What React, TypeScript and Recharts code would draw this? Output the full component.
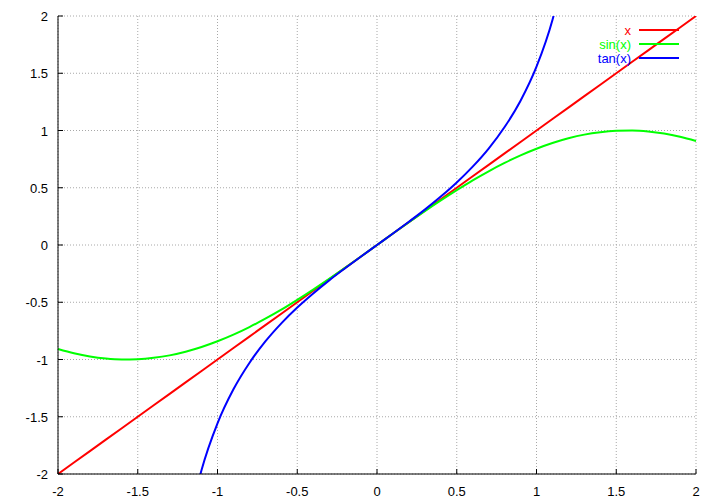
import React from "react";
import {
  CartesianGrid,
  Line,
  LineChart,
  XAxis,
  YAxis,
} from "recharts";

// sample points
const xs = [
  -2.0, -1.9, -1.8, -1.7, -1.6, -1.5, -1.4, -1.3, -1.2, -1.1, -1.0, -0.9, -0.8,
  -0.7, -0.6, -0.5, -0.4, -0.3, -0.2, -0.1, 0, 0.1, 0.2, 0.3, 0.4, 0.5, 0.6,
  0.7, 0.8, 0.9, 1.0, 1.1, 1.2, 1.3, 1.4, 1.5, 1.6, 1.7, 1.8, 1.9, 2.0,
];
const sinVals = [
  -0.909, -0.946, -0.974, -0.992, -1.0, -0.997, -0.985, -0.964, -0.932,
  -0.891, -0.841, -0.783, -0.717, -0.644, -0.565, -0.479, -0.389, -0.296,
  -0.199, -0.1, 0, 0.1, 0.199, 0.296, 0.389, 0.479, 0.565, 0.644, 0.717,
  0.783, 0.841, 0.891, 0.932, 0.964, 0.985, 0.997, 1.0, 0.992, 0.974, 0.946,
  0.909,
];
const tanVals: (number | null)[] = [
  null, null, null, null, null, null, null, null, -2.572, -1.965, -1.557,
  -1.26, -1.03, -0.842, -0.684, -0.546, -0.423, -0.309, -0.203, -0.1, 0, 0.1,
  0.203, 0.309, 0.423, 0.546, 0.684, 0.842, 1.03, 1.26, 1.557, 1.965, 2.572,
  null, null, null, null, null, null, null, null,
];
const xTicks = [-2, -1.5, -1, -0.5, 0, 0.5, 1, 1.5, 2];
const yTicks = [-2, -1.5, -1, -0.5, 0, 0.5, 1, 1.5, 2];

const legendItems = [
  { label: "x", color: "#ff0000" },
  { label: "sin(x)", color: "#00ff00" },
  { label: "tan(x)", color: "#0000ff" },
];

const data = xs.map((x, i) => ({
  x,
  lin: x,
  sin: sinVals[i],
  tan: tanVals[i],
}));

const FONT = "'Liberation Sans', Arial, sans-serif";

function BottomTick(props: any) {
  const { x, y, payload } = props;
  return (
    <g>
      <line x1={x} x2={x} y1={y - 10} y2={y - 15} stroke="#000" />
      <text x={x} y={y + 12} textAnchor="middle" fontSize={13} fontFamily={FONT} fill="#000">
        {payload.value}
      </text>
    </g>
  );
}

function LeftTick(props: any) {
  const { x, y, payload } = props;
  return (
    <g>
      <line x1={x + 10} x2={x + 15} y1={y} y2={y} stroke="#000" />
      <text x={x} y={y + 5} textAnchor="end" fontSize={13} fontFamily={FONT} fill="#000">
        {payload.value}
      </text>
    </g>
  );
}

function LegendBox() {
  return (
    <div
      style={{
        position: "absolute",
        left: 560,
        top: 23,
        width: 130,
        fontFamily: FONT,
        fontSize: 13,
      }}
    >
      {legendItems.map((it) => (
        <div
          key={it.label}
          style={{ display: "flex", alignItems: "center", height: 14 }}
        >
          <span style={{ color: it.color, width: 71, textAlign: "right" }}>
            {it.label}
          </span>
          <span
            style={{
              display: "inline-block",
              marginLeft: 8,
              width: 40,
              height: 2,
              background: it.color,
            }}
          />
        </div>
      ))}
    </div>
  );
}

export default function App() {
  return (
    <div style={{ position: "absolute", left: 0, top: 0, width: 720, height: 504, background: "#fff" }}>
      <LineChart
        width={720}
        height={504}
        data={data}
        margin={{ top: 16, right: 24, left: 0, bottom: 0 }}
      >
        <CartesianGrid
          stroke="#a8a8a8"
          strokeDasharray="1 2"
          horizontalValues={yTicks}
          verticalValues={xTicks}
        />
        <XAxis
          dataKey="x"
          type="number"
          domain={[-2, 2]}
          ticks={xTicks}
          height={30}
          tickLine={false}
          tickSize={0}
          tickMargin={10}
          axisLine={{ stroke: "#000" }}
          tick={<BottomTick />}
          interval={0}
        />
        <XAxis
          xAxisId="top"
          dataKey="x"
          type="number"
          orientation="top"
          domain={[-2, 2]}
          ticks={xTicks}
          height={0}
          mirror
          tickSize={5}
          tickLine={{ stroke: "#000" }}
          axisLine={{ stroke: "#000" }}
          tickFormatter={() => ""}
          interval={0}
        />
        <YAxis
          type="number"
          domain={[-2, 2]}
          ticks={yTicks}
          width={58}
          allowDataOverflow
          tickLine={false}
          tickSize={0}
          tickMargin={10}
          axisLine={{ stroke: "#000" }}
          tick={<LeftTick />}
          interval={0}
        />
        <YAxis
          yAxisId="right"
          type="number"
          orientation="right"
          domain={[-2, 2]}
          ticks={yTicks}
          width={0}
          mirror
          tickSize={5}
          tickLine={{ stroke: "#000" }}
          axisLine={{ stroke: "#000" }}
          tickFormatter={() => ""}
          interval={0}
        />
        <Line
          dataKey="lin"
          stroke="#ff0000"
          strokeWidth={2}
          dot={false}
          type="linear"
          isAnimationActive={false}
        />
        <Line
          dataKey="sin"
          stroke="#00ff00"
          strokeWidth={2}
          dot={false}
          type="monotone"
          isAnimationActive={false}
        />
        <Line
          dataKey="tan"
          stroke="#0000ff"
          strokeWidth={2}
          dot={false}
          type="monotone"
          connectNulls={false}
          isAnimationActive={false}
        />
      </LineChart>
      <LegendBox />
    </div>
  );
}
